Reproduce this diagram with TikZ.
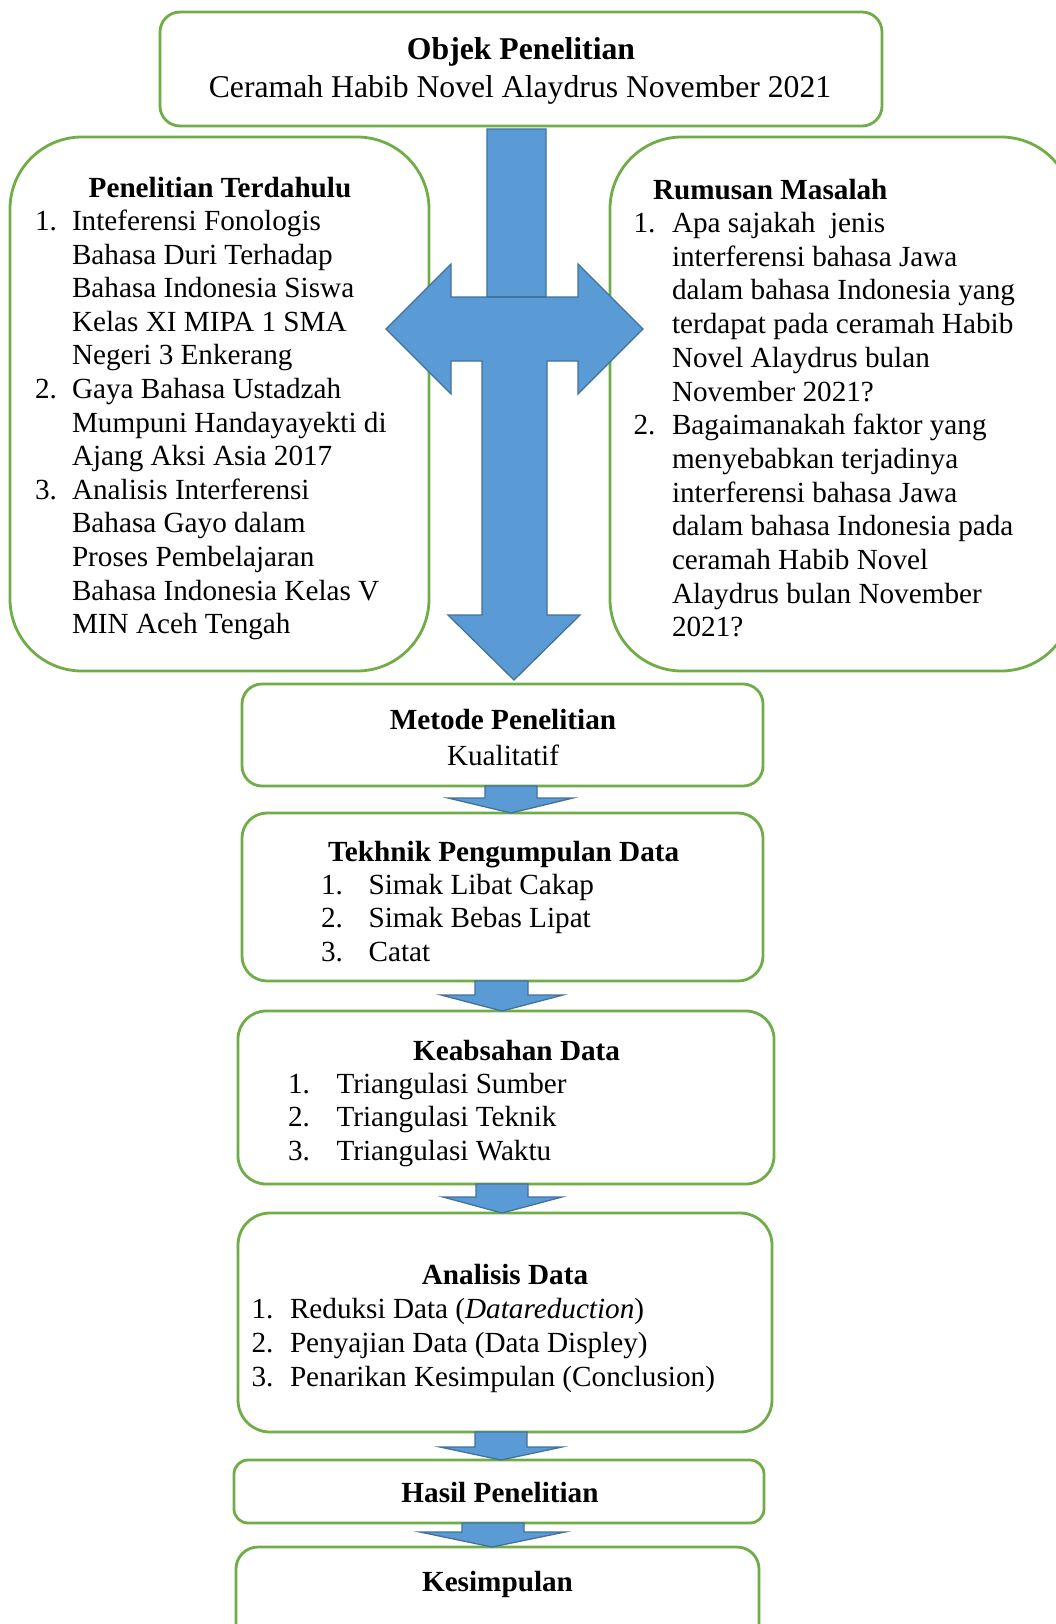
\documentclass[tikz,border=0pt]{standalone}
\usepackage{fontspec}
\setmainfont{Liberation Serif}
\definecolor{boxgreen}{HTML}{70AD47}
\definecolor{arrblue}{HTML}{5B9BD5}
\definecolor{arredge}{HTML}{41719C}
\newcommand{\bodyfont}{\fontsize{29.2}{33.6}\selectfont}
\newcommand{\topfont}{\fontsize{31.7}{38}\selectfont}
\begin{document}
\begin{tikzpicture}[x=1pt,y=-1pt,
  gbox/.style={draw=boxgreen, line width=2.8pt, fill=white, inner sep=0pt, outer sep=0pt, anchor=north west},
  barrow/.style={fill=arrblue, draw=arredge, line width=1.3pt, line join=miter},
  txt/.style={inner sep=0pt, outer sep=0pt, font=\bodyfont, anchor=base west},
  ctxt/.style={inner sep=0pt, outer sep=0pt, font=\bodyfont, anchor=base},
  ttl/.style={inner sep=0pt, outer sep=0pt, font=\bodyfont\bfseries, anchor=base},
]
\clip (0,0) rectangle (1056,1624);
\fill[white] (0,0) rectangle (1056,1624);

% boxes
\node[gbox, rounded corners=20pt, minimum width=722pt, minimum height=114pt] (objek) at (160,12) {};
\node[gbox, rounded corners=72pt, minimum width=419pt, minimum height=534pt] (terdahulu) at (10,137) {};
\node[gbox, rounded corners=72pt, minimum width=463pt, minimum height=534pt] (rumusan) at (610,137) {};
\node[gbox, rounded corners=20pt, minimum width=521pt, minimum height=102pt] (metode) at (242,684) {};
\node[gbox, rounded corners=25pt, minimum width=521pt, minimum height=168pt] (tekhnik) at (242,813) {};
\node[gbox, rounded corners=28pt, minimum width=536pt, minimum height=173pt] (keabsahan) at (238,1011) {};
\node[gbox, rounded corners=32pt, minimum width=534pt, minimum height=219pt] (analisis) at (238,1213) {};
\node[gbox, rounded corners=14pt, minimum width=530pt, minimum height=63pt] (hasil) at (234,1460) {};
\node[gbox, rounded corners=22pt, minimum width=523pt, minimum height=120pt] (kesimpulan) at (236,1547) {};

% big arrow
\draw[barrow] (487,129) -- (546,129) -- (546,297) -- (578,297) -- (578,264) -- (643,329)
  -- (578,394) -- (578,361) -- (547,361) -- (547,615) -- (580,615) -- (514,680)
  -- (448,615) -- (482,615) -- (482,361) -- (451,361) -- (451,394) -- (386,329)
  -- (451,264) -- (451,297) -- (487,297) -- cycle;
\draw[arredge, line width=1.3pt] (487,297) -- (546,297);

% small arrows
\draw[barrow] (485,786) -- (537,786) -- (537,798) -- (573,798) -- (511,813) -- (448,798) -- (485,798) -- cycle;
\draw[barrow] (475,981) -- (528,981) -- (528,995) -- (563,995) -- (502,1011) -- (441,995) -- (475,995) -- cycle;
\draw[barrow] (476,1184) -- (528,1184) -- (528,1197) -- (562,1197) -- (502,1213) -- (443,1197) -- (476,1197) -- cycle;
\draw[barrow] (475,1432) -- (527,1432) -- (527,1447) -- (562,1447) -- (501,1460) -- (440,1447) -- (475,1447) -- cycle;
\draw[barrow] (462,1523) -- (524,1523) -- (524,1532) -- (565,1532) -- (492,1547) -- (420,1532) -- (462,1532) -- cycle;

\begin{scope}[shift={(0,2)}]
% top box text
\node[ttl, font=\topfont\bfseries] (objT) at (521,57.6) {Objek Penelitian};
\node[ctxt, font=\topfont] (objS) at (520,96) {Ceramah Habib Novel Alaydrus November 2021};

% left box text
\node[ttl] (terT) at (220,195) {Penelitian Terdahulu};
\foreach \t [count=\i from 0] in {Inteferensi Fonologis, Bahasa Duri Terhadap, Bahasa Indonesia Siswa,
  Kelas XI MIPA 1 SMA, Negeri 3 Enkerang, Gaya Bahasa Ustadzah, Mumpuni Handayayekti di,
  Ajang Aksi Asia 2017, Analisis Interferensi, Bahasa Gayo dalam, Proses Pembelajaran,
  Bahasa Indonesia Kelas V, MIN Aceh Tengah}
  \node[txt] (L\i) at (72,228.5+33.6*\i) {\t};
\node[txt] (Ln1) at (35,228.5) {1.};
\node[txt] (Ln2) at (35,228.5+33.6*5) {2.};
\node[txt] (Ln3) at (35,228.5+33.6*8) {3.};

% right box text
\node[txt, font=\bodyfont\bfseries] (rumT) at (653,197.5) {Rumusan Masalah};
\foreach \t [count=\i from 0] in {Apa sajakah\ \ jenis, interferensi bahasa Jawa, dalam bahasa Indonesia yang,
  terdapat pada ceramah Habib, Novel Alaydrus bulan, November 2021?, Bagaimanakah faktor yang,
  menyebabkan terjadinya, interferensi bahasa Jawa, dalam bahasa Indonesia pada,
  ceramah Habib Novel, Alaydrus bulan November, 2021?}
  \node[txt] (R\i) at (672,230.5+33.7*\i) {\t};
\node[txt] (Rn1) at (633.6,230.5) {1.};
\node[txt] (Rn2) at (633.6,230.5+33.7*6) {2.};

% metode
\node[ttl] (metT) at (503,727.5) {Metode Penelitian};
\node[ctxt] (metS) at (503,763.5) {Kualitatif};

% tekhnik
\node[ttl] (tekT) at (503.7,859) {Tekhnik Pengumpulan Data};
\foreach \t [count=\i from 1] in {Simak Libat Cakap, Simak Bebas Lipat, Catat} {
  \node[txt] (Tn\i) at (321,858.5+33.5*\i) {\i.};
  \node[txt] (T\i) at (368.6,858.5+33.5*\i) {\t};
}

% keabsahan
\node[ttl] (keaT) at (516.6,1058) {Keabsahan Data};
\foreach \t [count=\i from 1] in {Triangulasi Sumber, Triangulasi Teknik, Triangulasi Waktu} {
  \node[txt] (Kn\i) at (288,1057.5+33.5*\i) {\i.};
  \node[txt] (K\i) at (336.5,1057.5+33.5*\i) {\t};
}

% analisis
\node[ttl] (anaT) at (505,1282.5) {Analisis Data};
\foreach \t [count=\i from 1] in {Reduksi Data (\textit{Datareduction}), Penyajian Data (Data Displey), Penarikan Kesimpulan (Conclusion)} {
  \node[txt] (An\i) at (251.6,1283+33.7*\i) {\i.};
  \node[txt] (A\i) at (290,1283+33.7*\i) {\t};
}

% hasil, kesimpulan
\node[ttl] (hasT) at (500,1500) {Hasil Penelitian};
\node[ttl] (kesT) at (497.5,1589) {Kesimpulan};
\end{scope}
\end{tikzpicture}
\end{document}
